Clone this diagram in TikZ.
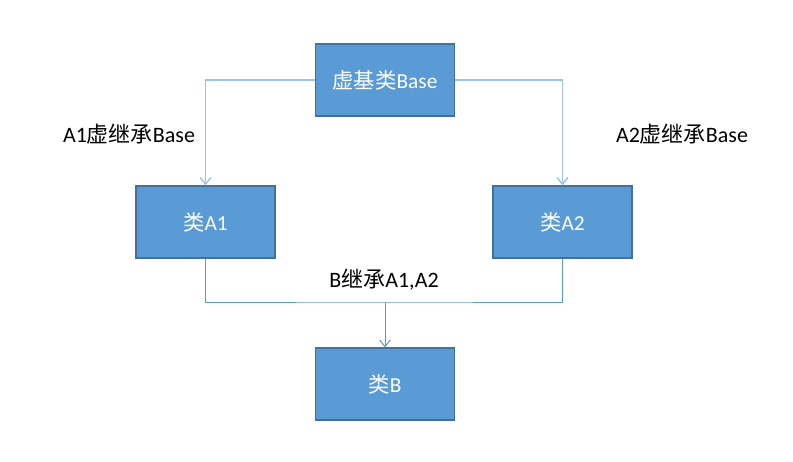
\documentclass[tikz,border=0pt]{standalone}
\usepackage{fontspec}
\setmainfont{Carlito}
\newfontfamily\cjkf{Noto Sans CJK SC}
\newcommand{\zh}[1]{{\cjkf #1}}
\usetikzlibrary{arrows.meta}
\definecolor{boxfill}{HTML}{5B9BD5}
\definecolor{boxline}{HTML}{41719C}
\definecolor{lightline}{HTML}{9DC3E6}
\definecolor{midline}{HTML}{5B9BD5}
\begin{document}
\begin{tikzpicture}[x=0.75pt,y=-0.75pt,
  cls/.style={draw=boxline,line width=0.9pt,fill=boxfill,minimum width=104.25pt,minimum height=54pt,inner sep=0pt,text=white,font=\fontsize{16}{19}\selectfont},
  lbl/.style={font=\fontsize{16.5}{19}\selectfont,text=black},
  topcon/.style={draw=lightline,line width=1.1pt,-{Straight Barb[length=5pt,width=8pt]}},
  botcon/.style={draw=midline,line width=0.75pt},
  arr/.style={-{Straight Barb[length=5pt,width=8pt]}}]
\useasboundingbox (0,0) rectangle (793,461);
\node[cls] (base) at (385,80) {\zh{虚基类}Base};
\node[cls] (a1) at (205.5,222) {\zh{类}A1};
\node[cls] (a2) at (562.5,222) {\zh{类}A2};
\node[cls] (b) at (385,384) {\zh{类}B};
\coordinate (j) at (385,302);
\draw[topcon] (base.west) -| (a1.north);
\draw[topcon] (base.east) -| (a2.north);
\draw[botcon] (a1.south) |- (j) -| (a2.south);
\draw[botcon,arr] (j) -- (b.north);
\node[lbl] (l1) at (129,134) {A1\zh{虚继承}Base};
\node[lbl] (l2) at (682,134) {A2\zh{虚继承}Base};
\node[lbl] (l3) at (384,280) {B\zh{继承}A1,A2};
\end{tikzpicture}
\end{document}
